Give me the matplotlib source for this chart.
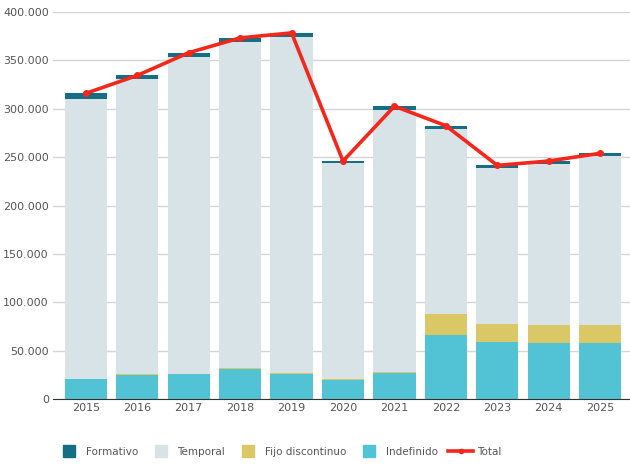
import numpy as np
import matplotlib.pyplot as plt
from matplotlib.lines import Line2D
from matplotlib.ticker import FuncFormatter

years = ['2015', '2016', '2017', '2018', '2019', '2020', '2021', '2022', '2023', '2024', '2025']

# values
indefinido = [20600, 24800, 25800, 31000, 26000, 19600, 26900, 66100, 58900, 57900, 57900]
fijo_discontinuo = [300, 800, 500, 1200, 900, 900, 1100, 21700, 18600, 18500, 18500]
temporal = [289100, 305000, 327700, 336800, 347600, 223300, 271000, 191200, 161500, 166600, 174900]
formativo = [6000, 4100, 4000, 4000, 3500, 2200, 3700, 3000, 2700, 3000, 2700]
total = [316000, 334500, 358000, 373300, 378500, 246000, 302700, 282500, 241500, 246000, 254000]

c_form = '#146f84'
c_temp = '#d8e3e8'
c_fijo = '#d9c865'
c_indef = '#52c3d4'
c_total = '#f5261a'
txt = '#555555'

fig = plt.figure(figsize=(6.3, 4.65), dpi=100)
ax = fig.add_axes([0.084, 0.142, 0.916, 0.832])

x = np.arange(len(years))
w = 0.82
b1 = np.array(indefinido)
b2 = b1 + np.array(fijo_discontinuo)
b3 = b2 + np.array(temporal)

ax.bar(x, indefinido, w, color=c_indef, zorder=2)
ax.bar(x, fijo_discontinuo, w, bottom=b1, color=c_fijo, zorder=2)
ax.bar(x, temporal, w, bottom=b2, color=c_temp, zorder=2)
ax.bar(x, formativo, w, bottom=b3, color=c_form, zorder=2)
ax.plot(x, total, color=c_total, lw=2.6, marker='o', ms=4, zorder=3)

ax.set_xlim(-0.64, 10.58)
ax.set_ylim(0, 400000)
ax.set_yticks(np.arange(0, 400001, 50000))
ax.yaxis.set_major_formatter(FuncFormatter(lambda v, p: f'{int(v):,}'.replace(',', '.')))
ax.set_xticks(x)
ax.set_xticklabels(years)
ax.tick_params(length=0, labelsize=8, colors=txt, pad=3)
ax.grid(axis='y', color='#d6d6d6', lw=1, zorder=0)
for s in ['top', 'right', 'left']:
    ax.spines[s].set_visible(False)
ax.spines['bottom'].set_color('#333333')
ax.spines['bottom'].set_zorder(4)

handles = [
    Line2D([], [], ls='none', marker='s', ms=8, color=c_form),
    Line2D([], [], ls='none', marker='s', ms=8, color=c_temp),
    Line2D([], [], ls='none', marker='s', ms=8, color=c_fijo),
    Line2D([], [], ls='none', marker='s', ms=8, color=c_indef),
    Line2D([], [], color=c_total, lw=2.6, marker='o', ms=3),
]
labels = ['Formativo', 'Temporal', 'Fijo discontinuo', 'Indefinido', 'Total']
leg = fig.legend(handles, labels, loc='center', bbox_to_anchor=(0.443, 0.028), ncol=5,
                 frameon=False, fontsize=7.5, handlelength=2.4, handletextpad=0.4,
                 columnspacing=1.0, labelcolor=txt)

fig.savefig('out.png', dpi=100)
